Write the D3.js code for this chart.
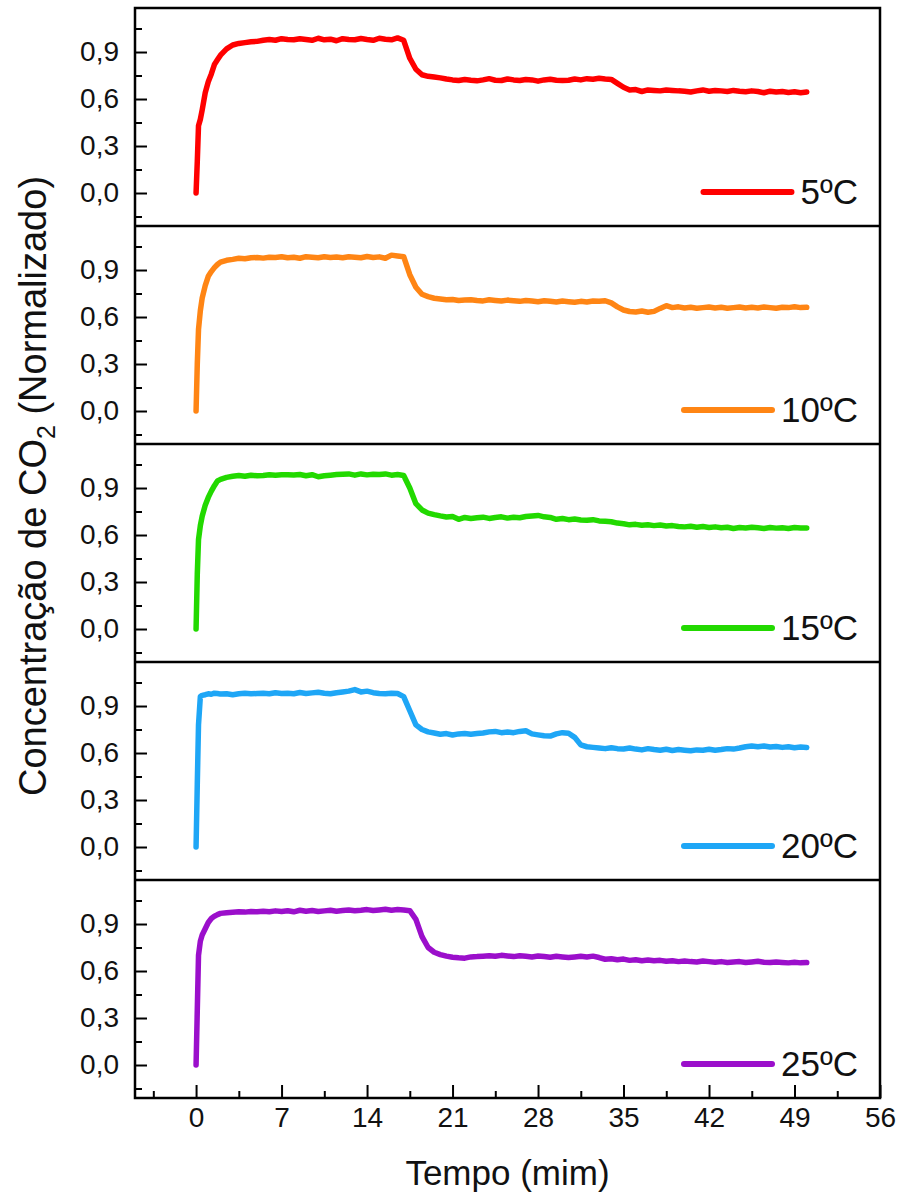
<!DOCTYPE html>
<html><head><meta charset="utf-8">
<script src="https://cdn.jsdelivr.net/npm/d3@7"></script>
<style>body{margin:0;background:#fff}svg{display:block}</style>
</head><body>
<svg id="chart" width="901" height="1196"></svg>
<script>
// ---------- DATA ----------
const tempo = [0,0.1,0.2,0.35,0.5,0.75,1,1.25,1.5,1.75,
  2,2.5,3,3.5,4,4.5,5,5.5,6,6.5,7,7.5,8,8.5,9,9.5,10,10.5,11,11.5,12,12.5,13,13.5,14,14.5,
  15,15.5,16,16.5,17,17.5,18,18.5,19,19.5,20,20.5,21,21.5,22,22.5,23,23.5,24,24.5,25,25.5,
  26,26.5,27,27.5,28,28.5,29,29.5,30,30.5,31,31.5,32,32.5,33,33.5,34,34.5,35,35.5,36,36.5,
  37,37.5,38,38.5,39,39.5,40,40.5,41,41.5,42,42.5,43,43.5,44,44.5,45,45.5,46,46.5,47,47.5,
  48,48.5,49,49.5,50];

const conc5C = [0,0.20,0.43,0.47,0.53,0.64,0.71,0.76,0.82,0.85,
  0.88,0.92,0.945,0.955,0.96,0.965,0.968,0.975,0.98,0.975,0.985,0.98,0.978,0.985,0.98,0.975,0.988,0.978,0.982,0.972,0.985,0.98,0.978,0.986,0.98,0.975,
  0.988,0.982,0.978,0.99,0.975,0.86,0.79,0.755,0.745,0.74,0.735,0.728,0.722,0.718,0.725,0.72,0.716,0.722,0.73,0.72,0.718,0.728,
  0.722,0.718,0.725,0.722,0.714,0.722,0.726,0.72,0.718,0.72,0.728,0.722,0.73,0.726,0.732,0.728,0.725,0.7,0.675,0.658,0.66,0.648,
  0.658,0.655,0.652,0.658,0.655,0.652,0.65,0.645,0.652,0.658,0.65,0.655,0.652,0.648,0.655,0.65,0.646,0.652,0.648,0.64,0.65,0.645,
  0.648,0.642,0.646,0.64,0.645];

const conc10C = [0,0.30,0.52,0.64,0.72,0.80,0.86,0.89,0.915,0.935,
  0.95,0.962,0.968,0.975,0.972,0.978,0.98,0.976,0.982,0.98,0.985,0.978,0.982,0.975,0.985,0.982,0.978,0.985,0.98,0.983,0.978,0.985,0.982,0.978,0.986,0.98,
  0.984,0.975,0.995,0.99,0.985,0.87,0.79,0.745,0.73,0.72,0.715,0.71,0.712,0.705,0.708,0.71,0.705,0.703,0.71,0.706,0.702,0.708,
  0.704,0.70,0.706,0.702,0.698,0.704,0.70,0.696,0.702,0.698,0.694,0.70,0.696,0.702,0.70,0.704,0.69,0.665,0.645,0.635,0.632,0.638,
  0.63,0.636,0.655,0.672,0.66,0.665,0.658,0.662,0.656,0.66,0.664,0.658,0.662,0.656,0.66,0.664,0.658,0.662,0.658,0.664,0.66,0.656,
  0.662,0.66,0.665,0.66,0.662];

const conc15C = [0,0.35,0.57,0.66,0.72,0.79,0.84,0.88,0.915,0.945,
  0.955,0.968,0.975,0.98,0.975,0.982,0.978,0.98,0.985,0.982,0.984,0.984,0.983,0.986,0.978,0.985,0.972,0.978,0.982,0.986,0.988,0.99,0.982,0.99,0.984,0.988,
  0.986,0.99,0.982,0.986,0.98,0.90,0.80,0.76,0.74,0.73,0.722,0.715,0.718,0.70,0.712,0.705,0.71,0.714,0.706,0.712,0.716,0.708,
  0.714,0.71,0.718,0.722,0.725,0.716,0.712,0.70,0.705,0.698,0.702,0.696,0.694,0.698,0.69,0.688,0.685,0.676,0.672,0.665,0.668,0.662,
  0.665,0.66,0.664,0.658,0.66,0.655,0.652,0.656,0.65,0.654,0.648,0.652,0.646,0.65,0.642,0.648,0.645,0.65,0.646,0.642,0.648,0.644,
  0.646,0.642,0.648,0.645,0.645];

const conc20C = [0,0.40,0.78,0.96,0.968,0.972,0.978,0.975,0.982,0.98,
  0.976,0.978,0.972,0.978,0.982,0.978,0.98,0.982,0.978,0.985,0.98,0.982,0.978,0.986,0.98,0.984,0.988,0.982,0.978,0.985,0.99,0.995,1.005,0.99,0.995,0.985,
  0.98,0.978,0.982,0.98,0.96,0.87,0.78,0.75,0.735,0.728,0.72,0.724,0.715,0.722,0.725,0.72,0.724,0.728,0.735,0.738,0.73,0.734,
  0.73,0.738,0.742,0.722,0.716,0.71,0.708,0.722,0.73,0.726,0.70,0.652,0.64,0.636,0.632,0.628,0.634,0.628,0.626,0.632,0.625,0.62,
  0.628,0.622,0.618,0.624,0.616,0.622,0.618,0.614,0.62,0.618,0.624,0.618,0.622,0.628,0.625,0.632,0.64,0.645,0.64,0.645,0.638,0.642,
  0.636,0.64,0.634,0.638,0.635];

const conc25C = [0,0.35,0.70,0.79,0.83,0.87,0.91,0.935,0.95,0.96,
  0.968,0.972,0.975,0.978,0.976,0.98,0.978,0.982,0.978,0.984,0.98,0.985,0.978,0.988,0.982,0.986,0.98,0.984,0.988,0.982,0.986,0.99,0.985,0.988,0.992,0.986,
  0.99,0.994,0.988,0.992,0.99,0.985,0.93,0.82,0.75,0.72,0.705,0.695,0.688,0.684,0.682,0.69,0.692,0.695,0.698,0.694,0.70,0.696,
  0.692,0.698,0.694,0.69,0.696,0.692,0.688,0.694,0.69,0.686,0.69,0.694,0.69,0.695,0.686,0.675,0.678,0.672,0.676,0.668,0.672,0.666,
  0.67,0.665,0.668,0.662,0.666,0.66,0.664,0.66,0.658,0.664,0.66,0.656,0.66,0.655,0.658,0.66,0.654,0.658,0.662,0.656,0.654,0.658,
  0.655,0.652,0.656,0.652,0.654];

const seriesValues = [conc5C, conc10C, conc15C, conc20C, conc25C];
const seriesLabels = ["5ºC", "10ºC", "15ºC", "20ºC", "25ºC"];
const seriesColors = ["#FF0000", "#FF8514", "#22D900", "#1EA6F6", "#9B0FCB"];

const yMajorTicks = [0, 0.3, 0.6, 0.9];
const yMajorLabels = ["0,0", "0,3", "0,6", "0,9"];
const yMinorTicks = [-0.15, 0.15, 0.45, 0.75, 1.05];
const xMajorTicks = [0, 7, 14, 21, 28, 35, 42, 49, 56];
const xMinorTicks = [-3.5, 3.5, 10.5, 17.5, 24.5, 31.5, 38.5, 45.5, 52.5];

const xTitle = "Tempo (mim)";

// ---------- LAYOUT ----------
const FONT = "'Liberation Sans', Arial, Helvetica, sans-serif";
const mLeft = 135, mRight = 880, mTop = 8, panelH = 218, nP = 5;
const mBottom = mTop + panelH * nP;

const svg = d3.select("#chart");
const x = d3.scaleLinear().domain([-5, 56]).range([mLeft, mRight]);
const y = d3.scaleLinear().domain([-0.2106, 1.181]).range([panelH, 0]);

const line = d3.line()
  .x(d => x(d[0]))
  .y(d => y(d[1]))
  .curve(d3.curveLinear);

seriesValues.forEach((vals, p) => {
  const g = svg.append("g").attr("transform", `translate(0,${mTop + p * panelH})`);
  const pts = tempo.map((t, i) => [t, vals[i]]);

  g.append("g").attr("transform", `translate(${mLeft},0)`)
    .call(d3.axisLeft(y).tickValues(yMinorTicks).tickSize(-7).tickFormat(""))
    .call(a => a.select(".domain").remove())
    .call(a => a.selectAll("line").attr("stroke", "#000").attr("stroke-width", 2));
  g.append("g").attr("transform", `translate(${mLeft},0)`)
    .call(d3.axisLeft(y).tickValues(yMajorTicks).tickSize(-12).tickPadding(16)
      .tickFormat((d, i) => yMajorLabels[i]))
    .call(a => a.select(".domain").remove())
    .call(a => a.selectAll("line").attr("stroke", "#000").attr("stroke-width", 2))
    .call(a => a.selectAll("text").attr("font-family", FONT).attr("font-size", 28).attr("fill", "#111"));

  g.append("path").datum(pts)
    .attr("d", line)
    .attr("fill", "none")
    .attr("stroke", seriesColors[p])
    .attr("stroke-width", 5.5)
    .attr("stroke-linejoin", "round")
    .attr("stroke-linecap", "round");

  const lt = g.append("text")
    .attr("x", 858).attr("y", 196)
    .attr("text-anchor", "end")
    .attr("font-family", FONT).attr("font-size", 35).attr("fill", "#111")
    .text(seriesLabels[p]);
  const w = lt.node().getComputedTextLength();
  const lx2 = 858 - w - 9;
  g.append("line")
    .attr("x1", lx2 - 88).attr("x2", lx2)
    .attr("y1", 184).attr("y2", 184)
    .attr("stroke", seriesColors[p]).attr("stroke-width", 6)
    .attr("stroke-linecap", "round");

  if (p > 0) {
    g.append("line").attr("x1", mLeft).attr("x2", mRight).attr("y1", 0).attr("y2", 0)
      .attr("stroke", "#000").attr("stroke-width", 2.5);
  }
});

svg.append("g").attr("transform", `translate(0,${mBottom})`)
  .call(d3.axisBottom(x).tickValues(xMinorTicks).tickSize(-7).tickFormat(""))
  .call(a => a.select(".domain").remove())
  .call(a => a.selectAll("line").attr("stroke", "#000").attr("stroke-width", 2));
svg.append("g").attr("transform", `translate(0,${mBottom})`)
  .call(d3.axisBottom(x).tickValues(xMajorTicks).tickSize(-13).tickPadding(9).tickFormat(d3.format("d")))
  .call(a => a.select(".domain").remove())
  .call(a => a.selectAll("line").attr("stroke", "#000").attr("stroke-width", 2))
  .call(a => a.selectAll("text").attr("font-family", FONT).attr("font-size", 28).attr("fill", "#111"));

svg.append("rect")
  .attr("x", mLeft).attr("y", mTop).attr("width", mRight - mLeft).attr("height", mBottom - mTop)
  .attr("fill", "none").attr("stroke", "#000").attr("stroke-width", 2.5);

svg.append("text")
  .attr("x", (mLeft + mRight) / 2).attr("y", 1185)
  .attr("text-anchor", "middle")
  .attr("font-family", FONT).attr("font-size", 35).attr("fill", "#111")
  .text(xTitle);

const yt = svg.append("text")
  .attr("transform", "translate(46,486) rotate(-90)")
  .attr("text-anchor", "middle")
  .attr("font-family", FONT).attr("font-size", 38).attr("fill", "#111");
yt.append("tspan").text("Concentração de CO");
yt.append("tspan").attr("font-size", 25).attr("dy", 9).text("2");
yt.append("tspan").attr("dy", -9).text(" (Normalizado)");
</script>
</body></html>
